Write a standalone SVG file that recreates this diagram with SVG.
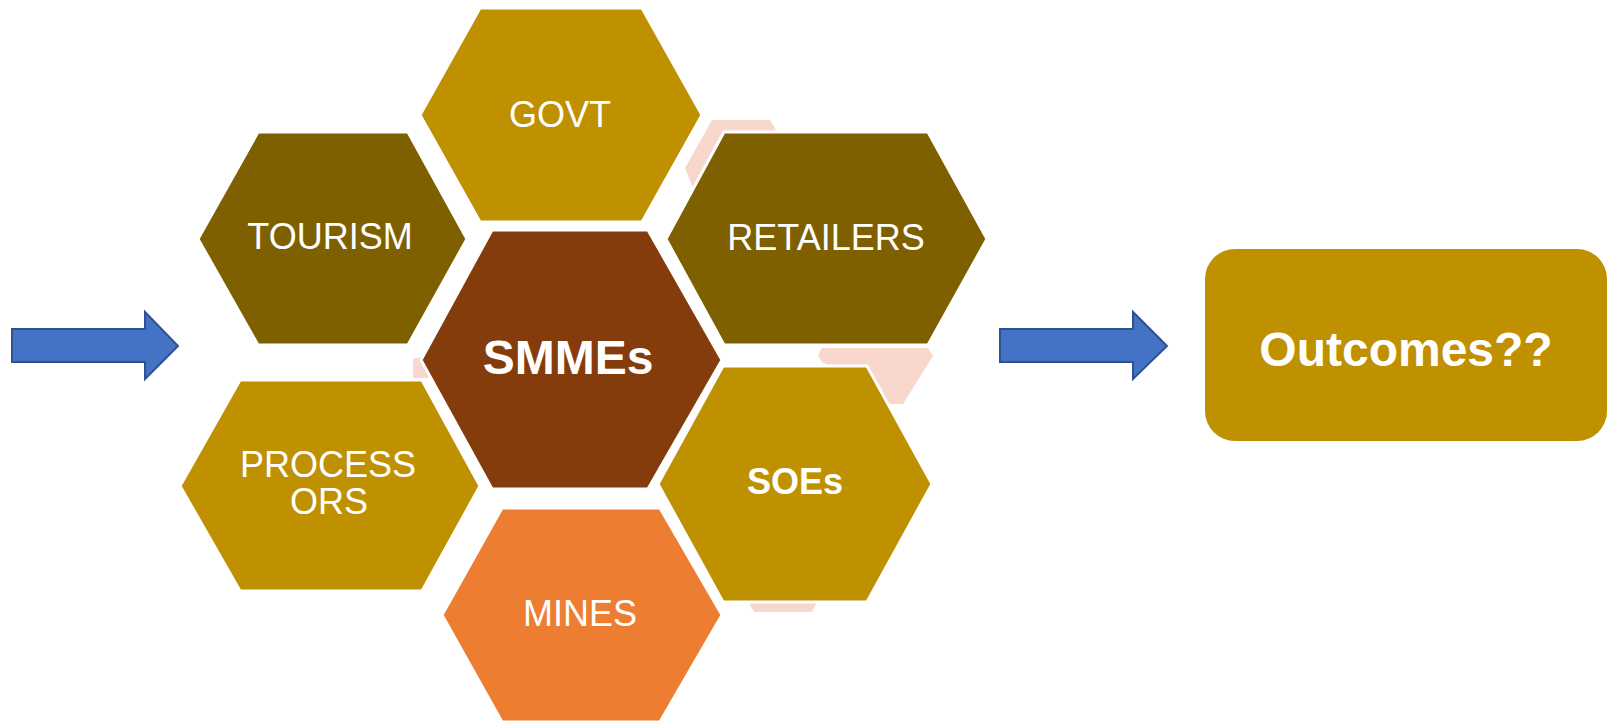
<svg xmlns="http://www.w3.org/2000/svg" width="1609" height="721" viewBox="0 0 1609 721">
<style>
.hex{stroke:#ffffff;stroke-width:3;stroke-linejoin:miter}
.gold{fill:#BF9000}
.olive{fill:#7F6000}
.brown{fill:#843C0C}
.orange{fill:#ED7D31}
.pink{fill:#F8D7CD}
.lbl{font-family:"Liberation Sans",Arial,sans-serif;fill:#ffffff;font-size:36px;text-anchor:middle}
.bold{font-weight:bold}
.arrow{fill:#4472C4;stroke:#2F528F;stroke-width:2}
</style>
<rect width="1609" height="721" fill="#ffffff"/>
<g id="accents">
<polygon class="pink" points="712,120 770,120 782,140 700,205 685,168"/>
<polygon class="pink" points="818,355 822,348 928,348 933,356 903,404 880,404 840,372 822,362"/>
<polygon class="pink" points="745,596 820,596 812,612 754,612"/>
<polygon class="pink" points="413,359 421,357 430,378 413,378"/>
</g>
<g id="connectors">
<polygon class="arrow" points="12,329 145,329 145,312 178,346 145,379 145,362 12,362"/>
<polygon class="arrow" points="1000,329 1133,329 1133,312 1167,346 1133,379 1133,362 1000,362"/>
</g>
<g id="govt">
<polygon class="hex gold" points="480,8 642,8 702,115 642,222 480,222 420,115"/>
<text class="lbl" x="560" y="127">GOVT</text>
</g>
<g id="tourism">
<polygon class="hex olive" points="258,132 408,132 467,239 408,345 258,345 198,239"/>
<text class="lbl" x="330" y="249">TOURISM</text>
</g>
<g id="retailers">
<polygon class="hex olive" points="724,132 928,132 987,239 928,345 724,345 666,239"/>
<text class="lbl" x="826" y="250">RETAILERS</text>
</g>
<g id="smmes">
<polygon class="hex brown" points="492,230 648,230 722,360 648,489 492,489 421,360"/>
<text class="lbl bold" x="568" y="374" font-size="48" style="font-size:48px">SMMEs</text>
</g>
<g id="processors">
<polygon class="hex gold" points="240,380 422,380 480,486 422,591 240,591 180,486"/>
<text class="lbl" x="328" y="477">PROCESS</text>
<text class="lbl" x="329" y="514">ORS</text>
</g>
<g id="soes">
<polygon class="hex gold" points="723,366 867,366 932,484 867,602 723,602 658,484"/>
<text class="lbl bold" x="795" y="494">SOEs</text>
</g>
<g id="mines">
<polygon class="hex orange" points="502,508 660,508 722,615 660,722 502,722 442,615"/>
<text class="lbl" x="580" y="626">MINES</text>
</g>
<g id="outcomes">
<rect x="1205" y="249" width="402" height="192" rx="30" ry="30" fill="#BF9000"/>
<text class="lbl bold" x="1406" y="366" style="font-size:48px">Outcomes??</text>
</g>
</svg>
